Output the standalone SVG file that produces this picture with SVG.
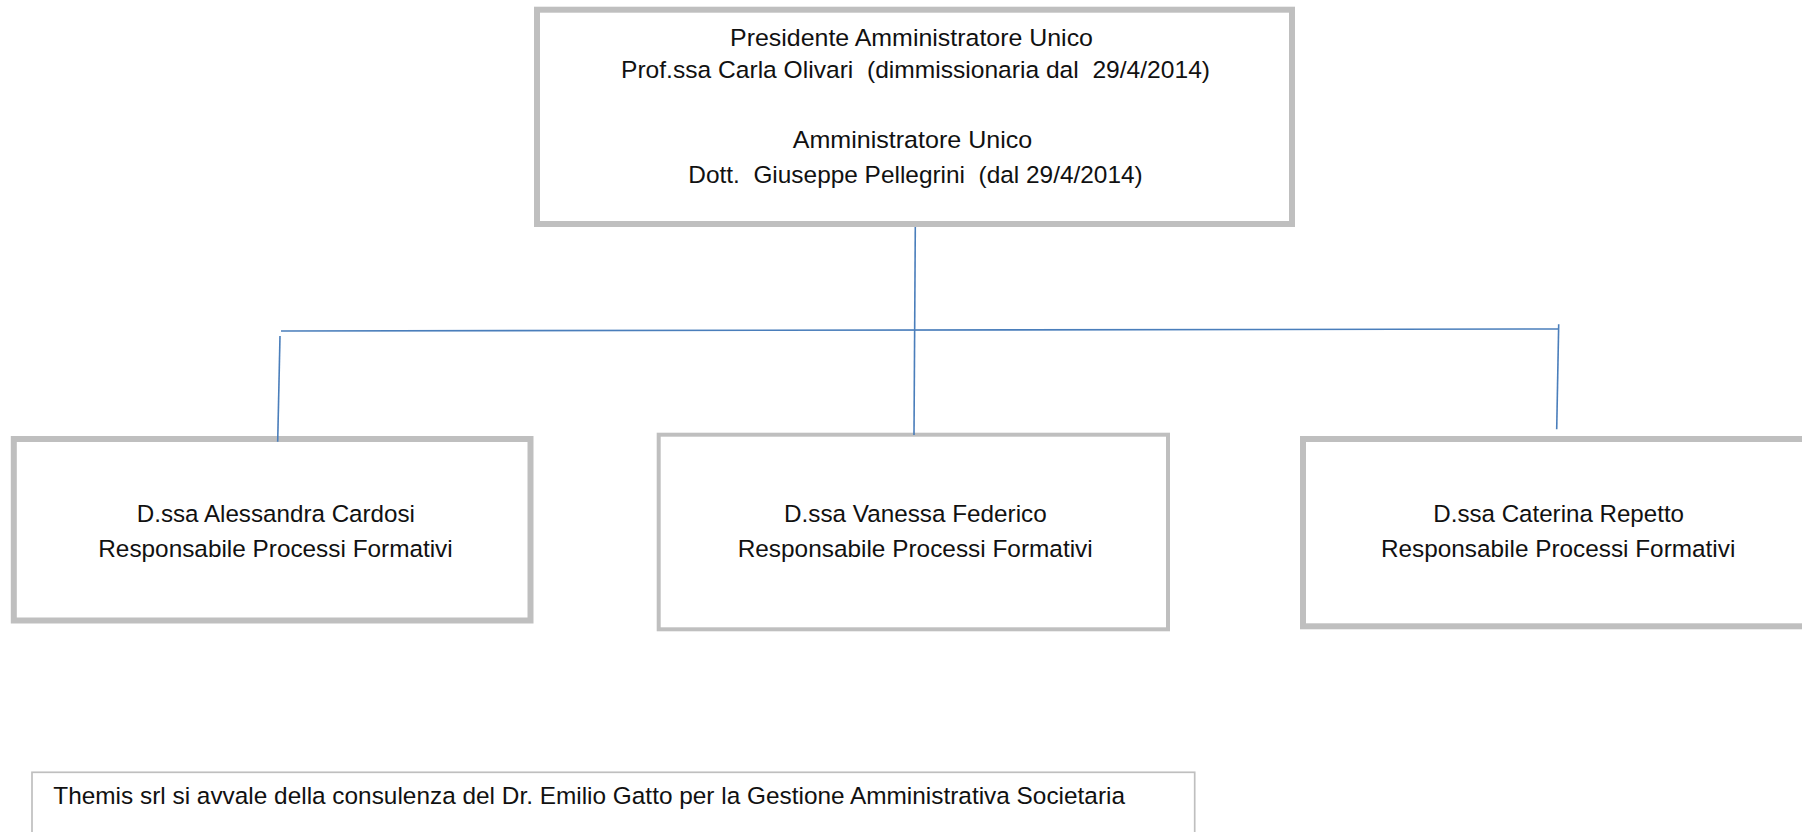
<svg xmlns="http://www.w3.org/2000/svg" width="1802" height="832" viewBox="0 0 1802 832">
<style>
  .box { fill: #ffffff; stroke: #bfbfbf; }
  .thick { stroke-width: 6; }
  .mid { stroke-width: 4; }
  .thin { stroke-width: 1.7; }
  .t { font-family: "Liberation Sans", Arial, sans-serif; font-size: 24.3px; fill: #111111; white-space: pre; }
  .conn { stroke: #4a7ebb; stroke-width: 1.6; fill: none; }
</style>
<rect width="1802" height="832" fill="#ffffff"/>
<g id="node-top">
  <rect class="box thick" x="537" y="9.7" width="755" height="214.3"/>
  <text class="t" xml:space="preserve" x="730" y="45.5" textLength="363" lengthAdjust="spacingAndGlyphs">Presidente Amministratore Unico</text>
  <text class="t" xml:space="preserve" x="621" y="78" textLength="589" lengthAdjust="spacingAndGlyphs">Prof.ssa Carla Olivari  (dimmissionaria dal  29/4/2014)</text>
  <text class="t" xml:space="preserve" x="792.7" y="148.3" textLength="239.6" lengthAdjust="spacingAndGlyphs">Amministratore Unico</text>
  <text class="t" xml:space="preserve" x="688.3" y="183" textLength="454.4" lengthAdjust="spacingAndGlyphs">Dott.  Giuseppe Pellegrini  (dal 29/4/2014)</text>
</g>
<g id="node-cardosi">
  <rect class="box thick" x="13.8" y="439" width="516.7" height="181.5"/>
  <text class="t" xml:space="preserve" x="136.7" y="522.3" textLength="278.3" lengthAdjust="spacingAndGlyphs">D.ssa Alessandra Cardosi</text>
  <text class="t" xml:space="preserve" x="98.3" y="556.7" textLength="354.4" lengthAdjust="spacingAndGlyphs">Responsabile Processi Formativi</text>
</g>
<g id="node-federico">
  <rect class="box mid" x="658.7" y="434.7" width="509.3" height="194.6"/>
  <text class="t" xml:space="preserve" x="784" y="522.3" textLength="262.7" lengthAdjust="spacingAndGlyphs">D.ssa Vanessa Federico</text>
  <text class="t" xml:space="preserve" x="737.7" y="556.7" textLength="355" lengthAdjust="spacingAndGlyphs">Responsabile Processi Formativi</text>
</g>
<g id="node-repetto">
  <rect class="box thick" x="1303" y="439" width="520" height="187.3"/>
  <text class="t" xml:space="preserve" x="1433.3" y="522.3" textLength="250.7" lengthAdjust="spacingAndGlyphs">D.ssa Caterina Repetto</text>
  <text class="t" xml:space="preserve" x="1381" y="556.7" textLength="354.3" lengthAdjust="spacingAndGlyphs">Responsabile Processi Formativi</text>
</g>
<g id="node-note">
  <rect class="box thin" x="32" y="772.3" width="1162.7" height="100"/>
  <text class="t" xml:space="preserve" x="53.3" y="803.5" textLength="1071.7" lengthAdjust="spacingAndGlyphs">Themis srl si avvale della consulenza del Dr. Emilio Gatto per la Gestione Amministrativa Societaria</text>
</g>
<g id="connectors">
  <path class="conn" d="M915.3 227 L914 435"/>
  <path class="conn" d="M281 331 L1558.7 329"/>
  <path class="conn" d="M280 336 L277.7 441.7"/>
  <path class="conn" d="M1558.7 324.3 L1556.7 429.3"/>
</g>
</svg>
